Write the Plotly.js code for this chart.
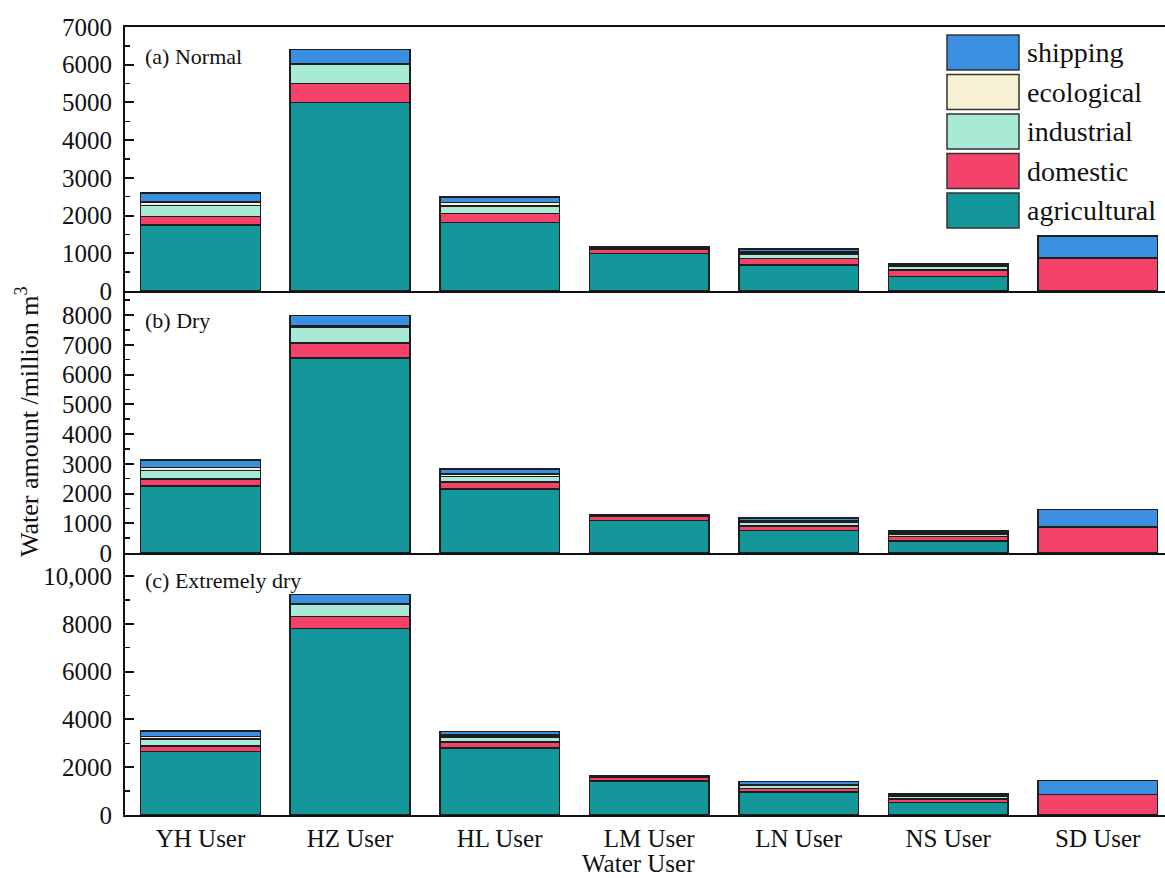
<!DOCTYPE html>
<html>
<head>
<meta charset="utf-8">
<script src="https://cdn.plot.ly/plotly-3.0.1.min.js"></script>
<style>
  html, body { margin: 0; padding: 0; background: #fff; overflow: hidden; }
  #chart { width: 1165px; height: 878px; }
</style>
</head>
<body>
<div id="chart"></div>
<script>
// Water users along the x axis
const users = ['YH User', 'HZ User', 'HL User', 'LM User', 'LN User', 'NS User', 'SD User'];

// Sectors, stacked bottom to top
const sectors = ['agricultural', 'domestic', 'industrial', 'ecological', 'shipping'];
const sectorColors = ['#14979b', '#f4426a', '#a9ead6', '#f7f1d3', '#3a8fe0'];

// (a) Normal year, million m3
const normalAgricultural = [1750, 5000, 1820, 1000, 690, 380, 0];
const normalDomestic     = [230, 500, 240, 110, 175, 175, 880];
const normalIndustrial   = [290, 500, 200, 30, 115, 90, 0];
const normalEcological   = [90, 30, 90, 15, 55, 40, 0];
const normalShipping     = [240, 370, 140, 25, 80, 35, 580];

// (b) Dry year
const dryAgricultural = [2250, 6560, 2160, 1090, 760, 400, 0];
const dryDomestic     = [240, 510, 220, 135, 155, 155, 870];
const dryIndustrial   = [280, 520, 200, 30, 105, 90, 0];
const dryEcological   = [110, 40, 80, 15, 50, 30, 0];
const dryShipping     = [240, 350, 170, 25, 115, 60, 590];

// (c) Extremely dry year
const xdryAgricultural = [2650, 7800, 2810, 1420, 960, 530, 0];
const xdryDomestic     = [240, 500, 250, 150, 155, 140, 850];
const xdryIndustrial   = [280, 500, 200, 25, 110, 110, 0];
const xdryEcological   = [110, 40, 95, 15, 60, 40, 0];
const xdryShipping     = [240, 380, 145, 25, 125, 60, 600];

// Panel captions and y tick values
const panelLabels = ['(a) Normal', '(b) Dry', '(c) Extremely dry'];
const ticksA = [0, 1000, 2000, 3000, 4000, 5000, 6000, 7000];
const ticksB = [0, 1000, 2000, 3000, 4000, 5000, 6000, 7000, 8000];
const ticksC = [0, 2000, 4000, 6000, 8000, 10000];

const panels = [
  { axis: '3', data: [normalAgricultural, normalDomestic, normalIndustrial, normalEcological, normalShipping] },
  { axis: '2', data: [dryAgricultural, dryDomestic, dryIndustrial, dryEcological, dryShipping] },
  { axis: '',  data: [xdryAgricultural, xdryDomestic, xdryIndustrial, xdryEcological, xdryShipping] }
];

const SERIF = "'Liberation Serif', 'Times New Roman', serif";
const W = 1165, H = 878;
const M = { l: 125, r: 0, t: 27, b: 63 };
const plotW = W - M.l - M.r, plotH = H - M.t - M.b;
const px2x = p => (p - M.l) / plotW;
const px2y = p => (H - M.b - p) / plotH;

const traces = [];
panels.forEach(panel => {
  panel.data.forEach((vals, i) => {
    traces.push({
      type: 'bar',
      name: sectors[i],
      x: users,
      y: vals,
      xaxis: 'x' + panel.axis,
      yaxis: 'y' + panel.axis,
      width: 0.8,
      marker: { color: sectorColors[i], line: { color: '#1e1e1e', width: 1.5 } },
      showlegend: false,
      hoverinfo: 'x+y+name'
    });
  });
});

const fmt = v => v >= 10000 ? v.toLocaleString('en-US') : String(v);

function yAxis(tickvals, range, domain, minorStep) {
  return {
    domain: domain,
    range: range,
    tickmode: 'array',
    tickvals: tickvals,
    ticktext: tickvals.map(fmt),
    ticks: 'inside',
    ticklen: 9,
    tickwidth: 2,
    tickcolor: '#111',
    minor: { ticks: 'inside', ticklen: 5, tickwidth: 1.5, tickcolor: '#111', dtick: minorStep, tick0: 0 },
    showline: true,
    linecolor: '#111',
    linewidth: 2,
    showgrid: false,
    zeroline: false,
    ticklabelstandoff: 6,
    tickfont: { family: SERIF, size: 25, color: '#111' },
    fixedrange: true
  };
}

const xRange = [-0.505, 6.45];
function xAxis(anchor, showLabels, mirror) {
  return {
    anchor: anchor,
    domain: [0, 1],
    range: xRange,
    type: 'category',
    showline: true,
    linecolor: '#111',
    linewidth: 2,
    mirror: mirror,
    ticks: '',
    showgrid: false,
    showticklabels: showLabels,
    tickfont: { family: SERIF, size: 25, color: '#111' },
    ticklabelstandoff: 0,
    fixedrange: true
  };
}

const dC = [0, 262 / plotH];
const dB = [262 / plotH, 524 / plotH];
const dA = [524 / plotH, 1];

const annotations = [];
const shapes = [];

// panel captions
[[57, 0], [321, 1], [580, 2]].forEach(([py, k]) => {
  annotations.push({
    xref: 'paper', yref: 'paper', x: px2x(143), y: px2y(py),
    xanchor: 'left', yanchor: 'middle', showarrow: false,
    text: panelLabels[k], font: { family: SERIF, size: 22, color: '#111' }
  });
});

// shared y title
annotations.push({
  xref: 'paper', yref: 'paper', x: px2x(27), y: px2y(422),
  xanchor: 'center', yanchor: 'middle', showarrow: false, textangle: -90,
  text: 'Water amount /million m<sup>3</sup>', font: { family: SERIF, size: 26, color: '#111' }
});

// x title
annotations.push({
  xref: 'paper', yref: 'paper', x: px2x(638), y: px2y(863),
  xanchor: 'center', yanchor: 'middle', showarrow: false,
  text: 'Water User', font: { family: SERIF, size: 25, color: '#111' }
});

// legend: top entry is shipping, bottom is agricultural
const legendOrder = [4, 3, 2, 1, 0];
legendOrder.forEach((s, row) => {
  const top = 35 + row * 39.5;
  shapes.push({
    type: 'rect', xref: 'paper', yref: 'paper',
    x0: px2x(947), x1: px2x(1019), y0: px2y(top + 35), y1: px2y(top),
    fillcolor: sectorColors[s], line: { color: '#333', width: 1.5 }
  });
  annotations.push({
    xref: 'paper', yref: 'paper', x: px2x(1025), y: px2y(top + 17.5),
    xanchor: 'left', yanchor: 'middle', showarrow: false,
    text: sectors[s], font: { family: SERIF, size: 28, color: '#111' }
  });
});

const layout = {
  width: W, height: H,
  margin: M,
  paper_bgcolor: '#fff',
  plot_bgcolor: '#fff',
  barmode: 'stack',
  bargap: 0.2,
  showlegend: false,
  xaxis: xAxis('y', true, false),
  xaxis2: Object.assign(xAxis('y2', false, false), { matches: 'x' }),
  xaxis3: Object.assign(xAxis('y3', false, true), { matches: 'x' }),
  yaxis: yAxis(ticksC, [0, 10960], dC, 1000),
  yaxis2: yAxis(ticksB, [0, 8810], dB, 500),
  yaxis3: yAxis(ticksA, [0, 7000], dA, 500),
  annotations: annotations,
  shapes: shapes
};

Plotly.newPlot('chart', traces, layout, { displayModeBar: false, staticPlot: true });
</script>
</body>
</html>
